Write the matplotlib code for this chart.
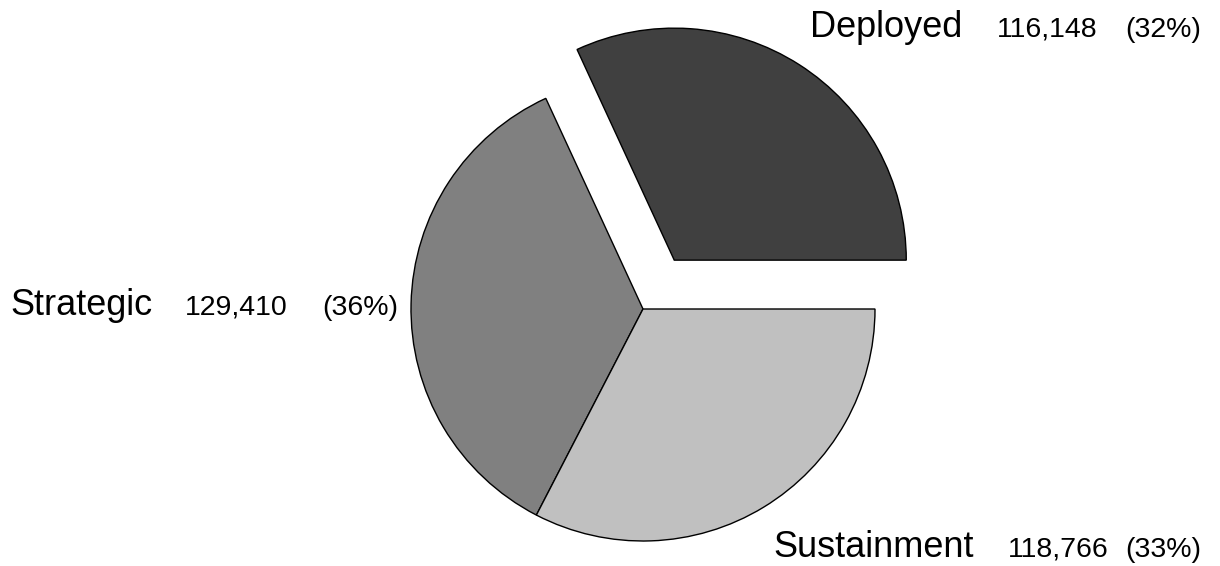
import numpy as np
import matplotlib
matplotlib.use("Agg")
import matplotlib.pyplot as plt

plt.rcParams['font.family'] = ['Liberation Sans', 'DejaVu Sans']

# data
labels = ['Deployed', 'Strategic', 'Sustainment']
values = [116148, 129410, 118766]
colors = ['#404040', '#808080', '#c0c0c0']
explode_frac = [0.25, 0.0, 0.0]

W, H = 1220, 566
fig = plt.figure(figsize=(W/100.0, H/100.0), dpi=100)
ax = fig.add_axes([0, 0, 1, 1])
ax.set_xlim(0, W)
ax.set_ylim(0, H)
ax.set_aspect('equal')
ax.axis('off')

cx, cy, r = 643, H - 309, 232
# explode is applied in data units here, so scale by radius
explode = [e*r for e in explode_frac]
ax.pie(values, colors=colors, explode=explode, startangle=0,
       counterclock=True, center=(cx, cy), radius=r,
       wedgeprops=dict(edgecolor='black', linewidth=1.0))
ax.set_xlim(0, W)
ax.set_ylim(0, H)

total = float(sum(values))
pct = [int(round(100.0*v/total)) for v in values]

# label positions (pixels from top-left): name x, number x, pct x, baseline y
lab_pos = {
    'Deployed': (810, 997, 1125, 37),
    'Strategic': (10, 185, 322, 315),
    'Sustainment': (773, 1008, 1125, 557),
}
for name, v, p in zip(labels, values, pct):
    xn, xv, xp, yb = lab_pos[name]
    ax.text(xn, H - yb, name, fontsize=26, ha='left', va='baseline')
    ax.text(xv, H - yb, '{:,}'.format(v), fontsize=20.5, ha='left', va='baseline')
    ax.text(xp, H - yb, '({}%)'.format(p), fontsize=20.5, ha='left', va='baseline')

fig.savefig('out.png', dpi=100)
